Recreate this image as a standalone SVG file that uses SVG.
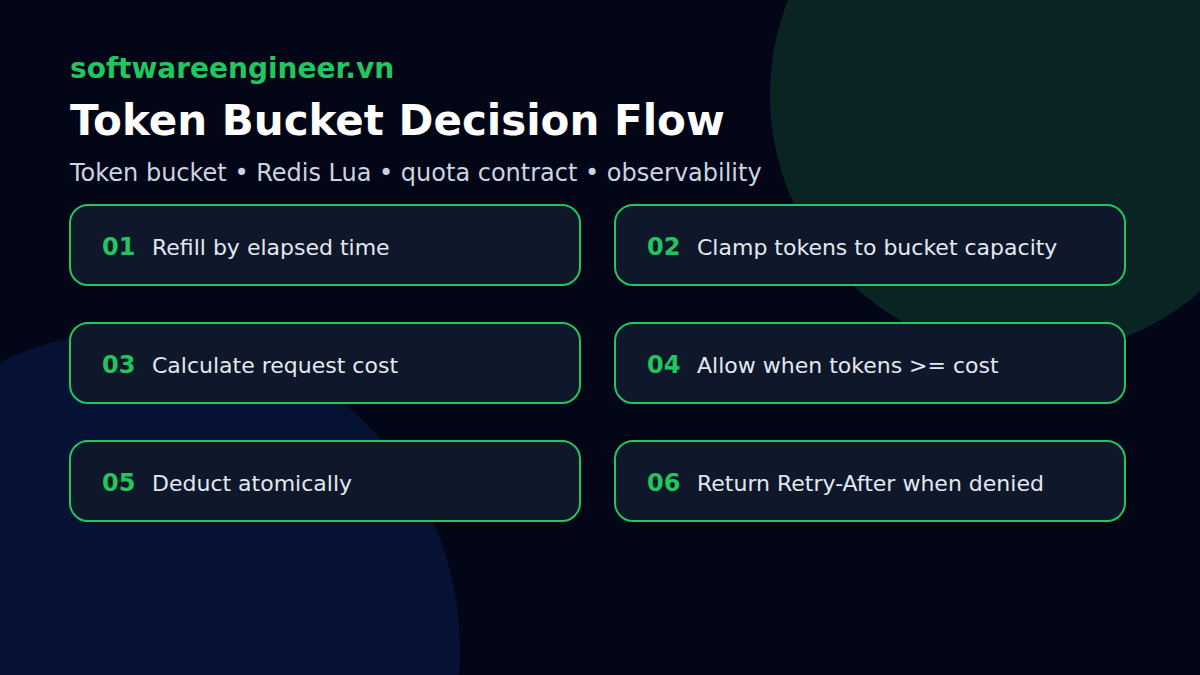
<svg xmlns="http://www.w3.org/2000/svg" width="1200" height="675" viewBox="0 0 1200 675">
<style>
.box{fill:#0f172a;stroke:#22c55e;stroke-width:2}
.num{font-family:"DejaVu Sans",sans-serif;font-weight:bold;font-size:24px;fill:#22c55e}
.lbl{font-family:"DejaVu Sans",sans-serif;font-size:22px;fill:#e2e8f0}
</style>
<rect width="1200" height="675" fill="#020617"/>
<circle cx="1030" cy="95" r="260" fill="#0a2424"/>
<circle cx="140" cy="650" r="320" fill="#061233"/>
<text x="70" y="78" font-family="DejaVu Sans, sans-serif" font-weight="bold" font-size="28" fill="#22c55e">softwareengineer.vn</text>
<text x="70" y="135" font-family="DejaVu Sans, sans-serif" font-weight="bold" font-size="42" fill="#ffffff">Token Bucket Decision Flow</text>
<text x="70" y="181" font-family="DejaVu Sans, sans-serif" font-size="24" fill="#cbd5e1">Token bucket • Redis Lua • quota contract • observability</text>
<g id="connectors"></g>
<g id="step01"><rect class="box" x="70" y="205" width="510" height="80" rx="18"/><text class="num" x="102" y="255">01</text><text class="lbl" x="152" y="255">Refill by elapsed time</text></g>
<g id="step02"><rect class="box" x="615" y="205" width="510" height="80" rx="18"/><text class="num" x="647" y="255">02</text><text class="lbl" x="697" y="255">Clamp tokens to bucket capacity</text></g>
<g id="step03"><rect class="box" x="70" y="323" width="510" height="80" rx="18"/><text class="num" x="102" y="373">03</text><text class="lbl" x="152" y="373">Calculate request cost</text></g>
<g id="step04"><rect class="box" x="615" y="323" width="510" height="80" rx="18"/><text class="num" x="647" y="373">04</text><text class="lbl" x="697" y="373">Allow when tokens &gt;= cost</text></g>
<g id="step05"><rect class="box" x="70" y="441" width="510" height="80" rx="18"/><text class="num" x="102" y="491">05</text><text class="lbl" x="152" y="491">Deduct atomically</text></g>
<g id="step06"><rect class="box" x="615" y="441" width="510" height="80" rx="18"/><text class="num" x="647" y="491">06</text><text class="lbl" x="697" y="491">Return Retry-After when denied</text></g>
</svg>
